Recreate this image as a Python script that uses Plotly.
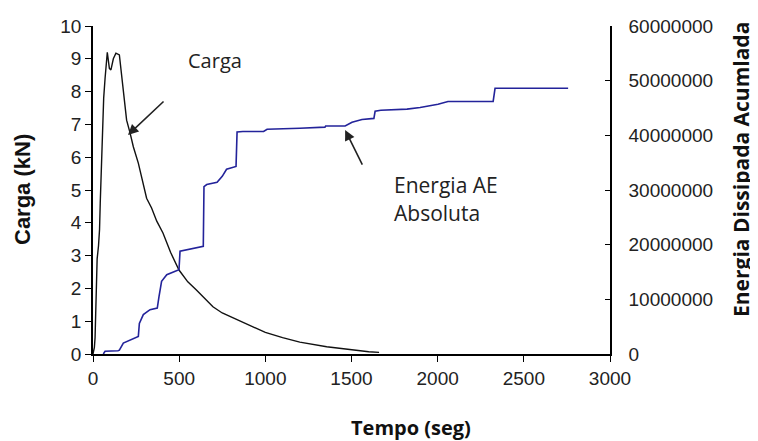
import plotly.graph_objects as go

# Carga (kN) vs tempo (s)
tempo_carga = [0, 8, 12, 18, 24, 32, 38, 42, 50, 55, 62, 70, 78, 83, 95, 104, 118, 133, 153, 160,
               166, 176, 195, 215, 234, 263, 311, 340, 370, 406, 450, 499, 550, 600, 650, 696,
               750, 800, 900, 1000, 1100, 1200, 1356, 1500, 1600, 1660]
carga = [0, 0.2, 0.5, 1.5, 2.9, 3.3, 3.8, 4.6, 6.0, 7.2, 7.8, 8.4, 9.0, 9.2, 8.71, 8.66, 9.0, 9.17, 9.12, 8.76,
         8.45, 7.95, 7.13, 6.74, 6.32, 5.82, 4.75, 4.45, 4.05, 3.69, 3.1, 2.56, 2.2, 1.95, 1.68, 1.44,
         1.25, 1.13, 0.88, 0.66, 0.5, 0.36, 0.22, 0.12, 0.07, 0.05]

# Energia AE absoluta acumulada vs tempo (s)
tempo_energia = [60, 70, 145, 153, 176, 230, 263, 269, 292, 331, 373, 383, 398, 428, 499, 505,
                 640, 644, 660, 720, 750, 775, 830, 836, 870, 990, 1010, 1200, 1346, 1350, 1463,
                 1503, 1561, 1630, 1637, 1670, 1822, 1898, 2002, 2060, 2322, 2333, 2757]
energia = [0, 0.5e6, 0.6e6, 0.7e6, 2.0e6, 2.7e6, 3.2e6, 5.6e6, 7.2e6, 8.1e6, 8.4e6, 10.5e6, 13.3e6, 14.5e6,
           15.4e6, 18.8e6, 19.7e6, 30.6e6, 31.0e6, 31.4e6, 32.5e6, 33.8e6, 34.3e6, 40.6e6, 40.7e6,
           40.7e6, 41.1e6, 41.3e6, 41.5e6, 41.7e6, 41.7e6, 42.4e6, 42.9e6, 43.1e6, 44.4e6, 44.6e6,
           44.8e6, 45.1e6, 45.7e6, 46.2e6, 46.2e6, 48.6e6, 48.6e6]

x_ticks = [0, 500, 1000, 1500, 2000, 2500, 3000]
y_ticks = list(range(0, 11))
y2_ticks = [0, 10000000, 20000000, 30000000, 40000000, 50000000, 60000000]

fig = go.Figure()
fig.add_trace(go.Scatter(x=tempo_carga, y=carga, mode="lines",
                         line=dict(color="#111111", width=1.4), showlegend=False))
fig.add_trace(go.Scatter(x=tempo_energia, y=energia, mode="lines", yaxis="y2",
                         line=dict(color="#23239a", width=1.6), showlegend=False))

tick_font = dict(family="Liberation Sans, Arial, sans-serif", size=19, color="#222222")
label_font = dict(family="Open Sans, sans-serif", size=21, color="#222222")

fig.update_layout(
    width=750, height=433,
    margin=dict(l=85, r=148, t=18, b=87),
    plot_bgcolor="white", paper_bgcolor="white",
    xaxis=dict(range=[0, 3000], tickvals=x_ticks, ticks="outside", ticklen=6, tickwidth=1.3,
               tickcolor="black", showline=True, linecolor="black", linewidth=1.5,
               showgrid=False, zeroline=False, tickfont=tick_font, automargin=False),
    yaxis=dict(range=[0, 10], tickvals=y_ticks, ticks="outside", ticklen=6, tickwidth=1.3,
               tickcolor="black", showline=True, linecolor="black", linewidth=1.5,
               showgrid=False, zeroline=False, tickfont=tick_font, automargin=False),
    yaxis2=dict(range=[0, 60000000], tickvals=y2_ticks, tickformat="d", overlaying="y", side="right",
                ticks="inside", ticklen=5, tickwidth=1.3, tickcolor="black", showline=True,
                linecolor="black", linewidth=1.5, showgrid=False, zeroline=False,
                tickfont=tick_font, ticklabelstandoff=13, automargin=False),
    annotations=[
        dict(text="<b>Carga (kN)</b>", xref="paper", yref="paper", x=0, y=0.5, xshift=-71,
             textangle=-90, showarrow=False,
             font=dict(family="Liberation Sans, Arial, sans-serif", size=22, color="#111111"),
             xanchor="center", yanchor="middle"),
        dict(text="<b>Tempo (seg)</b>", xref="paper", yref="paper", x=0.615, y=0, yshift=-73,
             showarrow=False, font=dict(family="Open Sans, sans-serif", size=20, color="#111111"),
             xanchor="center", yanchor="middle"),
        dict(text="<b>Energia Dissipada Acumlada</b>", xref="paper", yref="paper", x=1, y=0.561,
             xshift=131, textangle=-90, showarrow=False,
             font=dict(family="Open Sans, sans-serif", size=21, color="#111111"),
             xanchor="center", yanchor="middle"),
        dict(text="Carga", x=540, y=8.96, xref="x", yref="y", showarrow=False, xanchor="left",
             yanchor="middle", font=dict(family="Open Sans, sans-serif", size=20, color="#222222")),
        dict(text="Energia AE", x=1735, y=5.15, xref="x", yref="y", showarrow=False,
             xanchor="left", yanchor="middle", font=label_font),
        dict(text="Absoluta", x=1735, y=4.3, xref="x", yref="y", showarrow=False,
             xanchor="left", yanchor="middle", font=label_font),
        dict(text="", x=203, y=6.68, xref="x", yref="y", ax=418, ay=7.74, axref="x", ayref="y",
             showarrow=True, arrowhead=2, arrowsize=1.3, arrowwidth=1.6, arrowcolor="#222222"),
        dict(text="", x=1463, y=6.83, xref="x", yref="y", ax=1567, ay=5.73, axref="x", ayref="y",
             showarrow=True, arrowhead=2, arrowsize=1.3, arrowwidth=1.6, arrowcolor="#222222"),
    ],
)

fig.write_html("out.html")
